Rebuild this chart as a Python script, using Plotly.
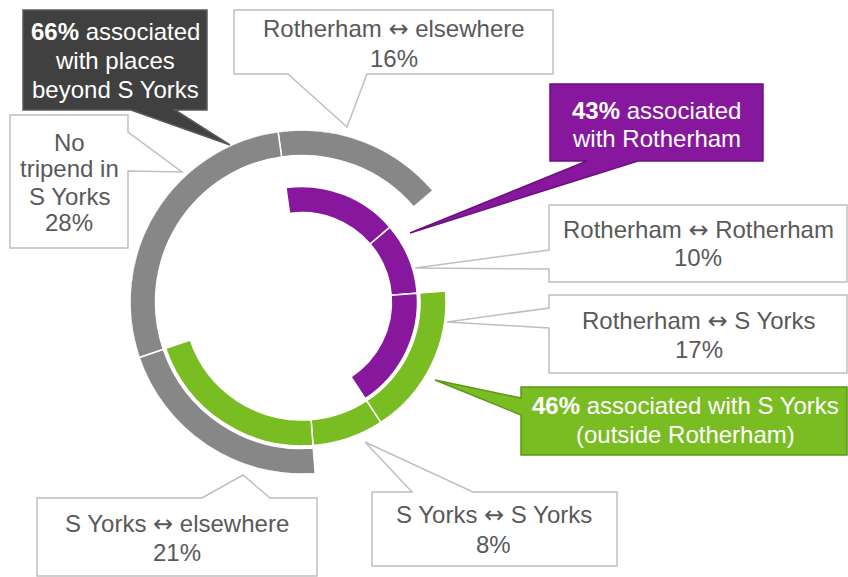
import plotly.graph_objects as go

# ---- data ----
categories = ["Rotherham ↔ elsewhere", "Rotherham ↔ Rotherham", "Rotherham ↔ S Yorks",
              "S Yorks ↔ S Yorks", "S Yorks ↔ elsewhere", "No tripend in S Yorks"]
shares = [16, 10, 17, 8, 21, 28]
in_rotherham = [1, 1, 1, 0, 0, 0]
in_syorks = [0, 0, 1, 1, 1, 0]
in_beyond = [1, 0, 0, 0, 1, 1]
group_pcts = [43, 46, 66]

W, H = 848, 577
CX, CY, RMAX = 302, 302, 171.5
PURPLE, GREEN, GREY = "#87189D", "#7ABD23", "#878787"
TXT = "#595959"

cum = []
acc = 0
for s in shares:
    cum.append(acc)
    acc += s
theta_c = [(c + s / 2) * 3.6 for c, s in zip(cum, shares)]
widths = [s * 3.6 for s in shares]

fig = go.Figure()
rings = [(in_rotherham, PURPLE, 89.5, 26), (in_syorks, GREEN, 118, 26), (in_beyond, GREY, 146.5, 25.5)]
for flags, col, base, thick in rings:
    th = [t for t, f in zip(theta_c, flags) if f]
    wd = [w for w, f in zip(widths, flags) if f]
    fig.add_trace(go.Barpolar(theta=th, width=wd, r=[thick] * len(th), base=[base] * len(th),
                              marker=dict(color=col, line=dict(color="white", width=1.5)),
                              hoverinfo="skip", showlegend=False))

def px(x, y):
    return x / W, 1 - y / H

def path(points):
    s = ""
    for i, (x, y) in enumerate(points):
        a, b = px(x, y)
        s += ("M" if i == 0 else "L") + f"{a:.5f},{b:.5f} "
    return s + "Z"

shapes = []
callouts = [
    ([(23, 10), (207, 10), (207, 110), (175, 110), (230, 145), (131, 110), (23, 110)], "#404040", "#5A5A5A"),
    ([(234, 10), (553, 10), (553, 74), (367, 74), (347, 127), (288, 74), (234, 74)], "white", "#BFBFBF"),
    ([(550, 84), (763, 84), (763, 161), (638, 161), (410, 233), (587, 161), (550, 161)], PURPLE, "#6A1180"),
    ([(10, 115), (128, 115), (128, 132), (182, 172), (128, 171), (128, 248), (10, 248)], "white", "#BFBFBF"),
    ([(549, 205), (847, 205), (847, 282), (549, 282), (549, 269), (415, 268), (549, 250)], "white", "#BFBFBF"),
    ([(549, 295), (847, 295), (847, 373), (549, 373), (549, 328), (447, 322), (549, 308)], "white", "#BFBFBF"),
    ([(521, 387), (847, 387), (847, 455), (521, 455), (521, 415), (435, 380), (521, 398)], GREEN, "#5E9619"),
    ([(372, 492), (412, 492), (365, 442), (473, 492), (617, 492), (617, 566), (372, 566)], "white", "#BFBFBF"),
    ([(37, 498), (202, 498), (243, 475), (270, 498), (317, 498), (317, 576), (37, 576)], "white", "#BFBFBF"),
]
for pts, fill, line in callouts:
    shapes.append(dict(type="path", path=path(pts), xref="paper", yref="paper",
                       fillcolor=fill, line=dict(color=line, width=1.5), layer="above"))

def pct(v):
    return f"{v}%"

ARROW = "<span style='font-family:DejaVu Sans'>↔</span>"

def cat(c):
    return c.replace("↔", ARROW)

labels = [
    (["<b>" + pct(group_pcts[2]) + "</b> associated", "with places", "beyond S Yorks"], 115, [31.5, 60.5, 89], "white"),
    ([cat(categories[0]), pct(shares[0])], 394, [28.5, 58], TXT),
    (["<b>" + pct(group_pcts[0]) + "</b> associated", "with Rotherham"], 656, [110.5, 139], "white"),
    (["No", "tripend in", "S Yorks", pct(shares[5])], 69, [142, 169, 196, 222.5], TXT),
    ([cat(categories[1]), pct(shares[1])], 698, [230.5, 257.5], TXT),
    ([cat(categories[2]), pct(shares[2])], 699, [320.5, 349], TXT),
    (["<b>" + pct(group_pcts[1]) + "</b> associated with S Yorks", "(outside Rotherham)"], 685, [406, 434], "white"),
    ([cat(categories[3]), pct(shares[3])], 494, [515, 544], TXT),
    ([cat(categories[4]), pct(shares[4])], 177, [524, 552], TXT),
]
annotations = []
for lines, x, ys, col in labels:
    for t, y in zip(lines, ys):
        a, b = px(x, y)
        annotations.append(dict(text=t, x=a, y=b, xref="paper", yref="paper", showarrow=False,
                                xanchor="center", yanchor="middle",
                                font=dict(family="Liberation Sans, Arial, sans-serif", size=24, color=col)))

d0x, d0y = px(CX - RMAX, CY + RMAX)
d1x, d1y = px(CX + RMAX, CY - RMAX)
fig.update_layout(
    width=W, height=H, margin=dict(l=0, r=0, t=0, b=0),
    paper_bgcolor="white", plot_bgcolor="white",
    polar=dict(domain=dict(x=[d0x, d1x], y=[d0y, d1y]), bgcolor="white", hole=0,
               radialaxis=dict(visible=False, range=[0, RMAX]),
               angularaxis=dict(visible=False, direction="clockwise", rotation=98, thetaunit="degrees")),
    barmode="overlay",
    shapes=shapes, annotations=annotations, showlegend=False,
)
fig.write_html("out.html", config={"displayModeBar": False},
               post_script="document.body.style.margin='0px';")
